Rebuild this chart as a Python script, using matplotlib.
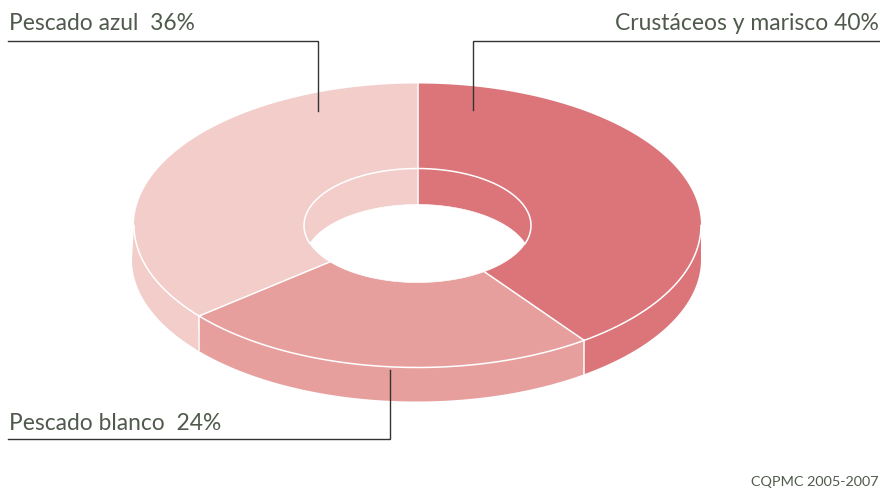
import numpy as np
import matplotlib
matplotlib.use('Agg')
import matplotlib.pyplot as plt
from matplotlib.patches import Polygon

# Shares clockwise from 12 o'clock
categories = ['Crustáceos y marisco', 'Pescado blanco', 'Pescado azul']
shares = [40, 24, 36]
colors = ['#DB7579', '#E79F9E', '#F2CDCA']
source = 'CQPMC 2005-2007'

# Donut geometry in pixels
cx, cy = 417.5, 225.5
outer_a, outer_b = 283.5, 142.0
inner_a, inner_b = 113.5, 57.0
depth = 34
hole_depth = 36
text_color = '#4F5A4C'
line_color = '#333333'

plt.rcParams['font.family'] = ['Lato', 'DejaVu Sans']


def arc(start, end, a, b, x0=cx, y0=cy, n=200):
    # angles are degrees clockwise from the top, y axis points down
    t = np.radians(np.linspace(start, end, n))
    return np.column_stack([x0 + a * np.sin(t), y0 - b * np.cos(t)])


fig = plt.figure(figsize=(8.8, 4.9), dpi=100)
ax = fig.add_axes([0, 0, 1, 1])
ax.set_xlim(0, 880)
ax.set_ylim(490, 0)
ax.axis('off')

edges = np.cumsum([0] + shares) / sum(shares) * 360

# Outer wall, only the front half is visible
for i in range(len(shares)):
    start, end = max(edges[i], 90), min(edges[i + 1], 270)
    if start >= end:
        continue
    top = arc(start, end, outer_a, outer_b)
    bottom = arc(start, end, outer_a + 1, outer_b, cx - 1, cy + depth)
    ax.add_patch(Polygon(np.vstack([top, bottom[::-1]]), closed=True,
                         fc=colors[i], ec='none', zorder=1))

# Top face, pie sectors also colour the inner wall of the hole
for i in range(len(shares)):
    pts = np.vstack([[[cx, cy]], arc(edges[i], edges[i + 1], outer_a, outer_b)])
    ax.add_patch(Polygon(pts, closed=True, fc=colors[i], ec='none', zorder=2))

# White edges of the top face
front = arc(90, 270, outer_a, outer_b)
ax.plot(front[:, 0], front[:, 1], color='white', lw=1.1, zorder=3)
# angle where the rim meets the lowered copy of the inner ellipse
half = np.degrees(np.arccos(hole_depth / 2 / inner_b))
rim = arc(-180 + half, 180 - half, inner_a, inner_b)
ax.plot(rim[:, 0], rim[:, 1], color='white', lw=1.1, zorder=3)

for e in edges[:-1]:
    p_out = arc(e, e, outer_a, outer_b, n=1)[0]
    p_in = arc(e, e, inner_a, inner_b, n=1)[0]
    if e == 0:
        # seam at the back runs down the inner wall too
        p_in = p_in + [0, hole_depth]
    ax.plot([p_out[0], p_in[0]], [p_out[1], p_in[1]], color='white', lw=1.1, zorder=3)
    if 90 < e < 270:
        ax.plot([p_out[0], p_out[0]], [p_out[1], p_out[1] + depth], color='white', lw=1.1, zorder=3)

# Hole: inner ellipse cut by the same ellipse moved down
hole_low = arc(180 - half, 180 + half, inner_a, inner_b)
hole_up = arc(-half, half, inner_a, inner_b, cx, cy + hole_depth)
ax.add_patch(Polygon(np.vstack([hole_low, hole_up]), closed=True, fc='white', ec='white', lw=0.5, zorder=4))

# Leader lines
ax.plot([8, 318, 318], [41, 41, 111], color=line_color, lw=1, zorder=5, solid_joinstyle='miter')
ax.plot([879, 473, 473], [41, 41, 110], color=line_color, lw=1, zorder=5, solid_joinstyle='miter')
ax.plot([8, 390, 390], [439, 439, 370], color=line_color, lw=1, zorder=5, solid_joinstyle='miter')

# Labels
ax.text(9, 30, f'{categories[2]}  {shares[2]}%', fontsize=16.4,
        color=text_color, ha='left', va='baseline')
ax.text(879, 30, f'{categories[0]} {shares[0]}%', fontsize=16.5,
        color=text_color, ha='right', va='baseline')
ax.text(9, 430, f'{categories[1]}  {shares[1]}%', fontsize=16.4,
        color=text_color, ha='left', va='baseline')
ax.text(879, 486, source, fontsize=10.4,
        color=text_color, ha='right', va='baseline')

fig.savefig('out.png', dpi=100)
